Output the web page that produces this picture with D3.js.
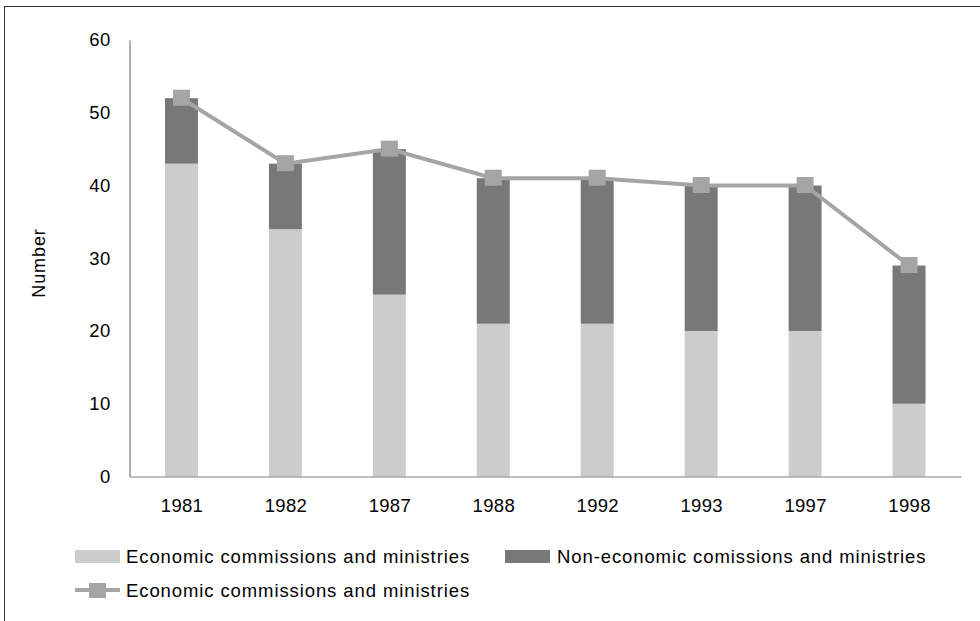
<!DOCTYPE html>
<html>
<head>
<meta charset="utf-8">
<script src="https://cdn.jsdelivr.net/npm/d3@7"></script>
<style>
  html, body { margin: 0; padding: 0; background: #fff; }
  svg { display: block; }
  text { font-family: "Liberation Sans", Arial, Helvetica, sans-serif; fill: #000; }
</style>
</head>
<body>
<svg id="chart" width="980" height="621"></svg>
<script>
// ---- data ----
const years = ["1981", "1982", "1987", "1988", "1992", "1993", "1997", "1998"];
const economic = [43, 34, 25, 21, 21, 20, 20, 10];
const nonEconomic = [9, 9, 20, 20, 20, 20, 20, 19];
const totalLine = [52, 43, 45, 41, 41, 40, 40, 29];
const yTicks = [0, 10, 20, 30, 40, 50, 60];
const seriesNames = ["Economic commissions and ministries", "Non-economic comissions and ministries", "Economic commissions and ministries"];

// ---- styles ----
const cLight = "#cccccc", cDark = "#787878", cLine = "#a5a5a5", cAxis = "#7f7f7f";
const fontSize = 18.5;

const svg = d3.select("#chart");

// frame
svg.append("rect").attr("x", 4.5).attr("y", 6.5).attr("width", 1200).attr("height", 1200)
  .attr("fill", "none").attr("stroke", "#333").attr("stroke-width", 1);

const x0 = 129.5, x1 = 961, yTop = 40, yBot = 476.5;
const x = d3.scalePoint().domain(years).range([x0, x1]).padding(0.5);
const step = x.step();
const barW = step * 0.317;
const y = d3.scaleLinear().domain([0, 60]).range([yBot, yTop]);

// stacked data
const stackData = years.map((yr, i) => ({ year: yr, eco: economic[i], non: nonEconomic[i] }));
const stack = d3.stack().keys(["eco", "non"])(stackData);
const colors = { eco: cLight, non: cDark };

svg.append("g").selectAll("g").data(stack).join("g")
  .attr("fill", d => colors[d.key])
  .selectAll("rect").data(d => d).join("rect")
  .attr("x", d => x(d.data.year) - barW / 2)
  .attr("width", barW)
  .attr("y", d => y(d[1]))
  .attr("height", d => y(d[0]) - y(d[1]));

// axes
const yAxis = d3.axisLeft(y).tickValues(yTicks).tickSize(0).tickPadding(19);
const gy = svg.append("g").attr("transform", `translate(${x0},0)`).call(yAxis);
gy.select(".domain").attr("stroke", cAxis).attr("stroke-width", 1.2);
gy.selectAll("text").attr("font-size", fontSize).attr("fill", "#000")
  .attr("letter-spacing", 0.3)
  .attr("font-family", "'Liberation Sans', Arial, sans-serif");

const xAxis = d3.axisBottom(x).tickSize(0).tickPadding(22);
const gx = svg.append("g").attr("transform", `translate(0,${yBot})`).call(xAxis);
gx.select(".domain").attr("stroke", cAxis).attr("stroke-width", 1.2);
gx.selectAll("text").attr("font-size", fontSize).attr("fill", "#000")
  .attr("letter-spacing", 0.3)
  .attr("font-family", "'Liberation Sans', Arial, sans-serif");

// line series
const line = d3.line().x((d, i) => x(years[i])).y(d => y(d));
svg.append("path").datum(totalLine).attr("d", line)
  .attr("fill", "none").attr("stroke", cLine).attr("stroke-width", 4);
const mk = 17;
svg.append("g").selectAll("rect").data(totalLine).join("rect")
  .attr("x", (d, i) => x(years[i]) - mk / 2)
  .attr("y", d => y(d) - mk / 2)
  .attr("width", mk).attr("height", mk - 1)
  .attr("fill", cLine);

// y title
svg.append("text").attr("transform", "translate(45,263) rotate(-90)")
  .attr("text-anchor", "middle").attr("font-size", 18).attr("letter-spacing", 0.9).text("Number");

// legend
const lg = svg.append("g");
lg.append("rect").attr("x", 75).attr("y", 550).attr("width", 45).attr("height", 13).attr("fill", cLight);
lg.append("text").attr("x", 126).attr("y", 563).attr("font-size", fontSize).attr("letter-spacing", 0.9).text(seriesNames[0]);
lg.append("rect").attr("x", 505).attr("y", 550).attr("width", 45).attr("height", 13).attr("fill", cDark);
lg.append("text").attr("x", 557).attr("y", 563).attr("font-size", fontSize).attr("letter-spacing", 0.9).text(seriesNames[1]);
lg.append("line").attr("x1", 75).attr("x2", 120).attr("y1", 590).attr("y2", 590)
  .attr("stroke", cLine).attr("stroke-width", 4);
lg.append("rect").attr("x", 89).attr("y", 583).attr("width", 17).attr("height", 15).attr("fill", cLine);
lg.append("text").attr("x", 126).attr("y", 597).attr("font-size", fontSize).attr("letter-spacing", 0.9).text(seriesNames[2]);
</script>
</body>
</html>
